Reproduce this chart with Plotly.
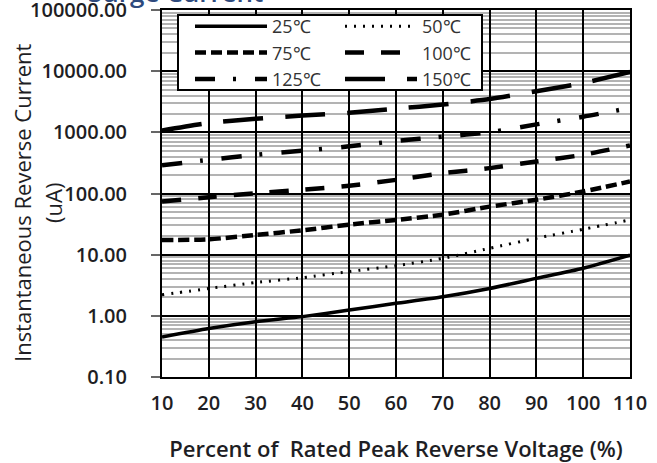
import plotly.graph_objects as go

# ---- data ----
voltage_pct = [10, 20, 30, 40, 50, 60, 70, 80, 90, 100, 110]
i_25C = [0.45, 0.62, 0.80, 0.97, 1.24, 1.6, 2.05, 2.8, 4.1, 6.0, 9.8]
i_50C = [2.2, 2.8, 3.5, 4.2, 5.3, 6.6, 8.7, 12.7, 18.6, 26, 37]
i_75C = [17.4, 17.8, 21, 25, 31, 37, 45, 61, 79, 108, 157]
i_100C = [74, 87, 101, 115, 134, 167, 215, 260, 334, 430, 610]
i_125C = [290, 355, 430, 500, 590, 720, 850, 1000, 1350, 1800, 2500]
i_150C = [1070, 1420, 1670, 1880, 2090, 2440, 2850, 3500, 4700, 6400, 9700]
series_names = ["25℃", "50℃", "75℃", "100℃", "125℃", "150℃"]
y_tickvals = [0.1, 1, 10, 100, 1000, 10000, 100000]
x_tickvals = [10, 20, 30, 40, 50, 60, 70, 80, 90, 100, 110]

series = [i_25C, i_50C, i_75C, i_100C, i_125C, i_150C]
styles = [
    dict(width=3.5, dash="solid"),
    dict(width=3, dash="2px,7px"),
    dict(width=4.5, dash="11px,5px"),
    dict(width=4.5, dash="19px,17px"),
    dict(width=4.5, dash="20px,18px,3px,19px"),
    dict(width=4.5, dash="40px,22px"),
]
legend_ids = ["legend", "legend2", "legend", "legend2", "legend", "legend2"]

FONT = "'Open Sans', sans-serif"
TXT = "#1e1e24"

# plot area in pixels
L, R, T, B = 162, 27, 10, 86
W, H = 657, 463
PW, PH = W - L - R, H - T - B


def px_x(p):
    return (p - L) / PW


def px_y(p):
    return 1 - (p - T) / PH


fig = go.Figure()
for name, vals, st, lg in zip(series_names, series, styles, legend_ids):
    fig.add_trace(go.Scatter(
        x=voltage_pct, y=vals, name=name, mode="lines", legend=lg,
        line=dict(color="black", shape="spline", smoothing=0.6, **st),
    ))

legend_common = dict(
    yanchor="top", xanchor="left", orientation="v",
    bgcolor="rgba(0,0,0,0)", borderwidth=0,
    font=dict(size=18, family=FONT, color="#333333"),
    itemwidth=72,
)

fig.update_layout(
    width=W, height=H,
    margin=dict(l=L, r=R, t=T, b=B, autoexpand=False),
    paper_bgcolor="white", plot_bgcolor="white",
    font=dict(family=FONT, color=TXT, size=16),
    showlegend=True,
    legend=dict(x=px_x(190), y=px_y(8), **legend_common),
    legend2=dict(x=px_x(340), y=px_y(8), **legend_common),
    xaxis=dict(
        range=[10, 110], tickvals=x_tickvals, ticktext=[str(v) for v in x_tickvals],
        showgrid=True, gridcolor="black", gridwidth=2,
        showline=True, linecolor="black", linewidth=2, mirror=True,
        ticks="", ticklabelstandoff=7, automargin=False,
        ticklabeloverflow="allow",
        tickfont=dict(size=20, family=FONT, color=TXT, weight=600),
        title=dict(text="Percent of  Rated Peak Reverse Voltage (%)",
                   font=dict(size=22, family=FONT, color=TXT, weight=600), standoff=27),
        zeroline=False,
    ),
    yaxis=dict(
        type="log", range=[-1.0005, 5.0005], tickvals=y_tickvals,
        ticktext=[f"{v:.2f}" for v in y_tickvals],
        showgrid=True, gridcolor="black", gridwidth=2,
        showline=True, linecolor="black", linewidth=2, mirror=True,
        ticks="outside", ticklen=9, tickcolor="#666666", tickwidth=1.5,
        ticklabelstandoff=20, automargin=False,
        ticklabeloverflow="allow",
        tickfont=dict(size=20, family=FONT, color=TXT, weight=600),
        minor=dict(dtick="D1", showgrid=True, gridcolor="#b3b3b3", gridwidth=1.5, ticks=""),
        zeroline=False,
    ),
)

# legend frame
fig.add_shape(
    type="rect", xref="paper", yref="paper",
    x0=px_x(178), x1=px_x(482), y0=px_y(90), y1=px_y(15),
    fillcolor="white", line=dict(color="black", width=2), layer="above",
)

fig.add_annotation(
    text="Instantaneous Reverse Current", textangle=-90,
    xref="paper", yref="paper", x=px_x(22), y=px_y(203),
    xanchor="center", yanchor="middle", showarrow=False,
    font=dict(size=22, family=FONT, color=TXT),
)
fig.add_annotation(
    text="(uA)", textangle=-90,
    xref="paper", yref="paper", x=px_x(53), y=px_y(203),
    xanchor="center", yanchor="middle", showarrow=False,
    font=dict(size=22, family=FONT, color=TXT),
)
fig.add_annotation(
    text="Surge Current",
    xref="paper", yref="paper", x=px_x(265), y=px_y(-8),
    xanchor="right", yanchor="middle", showarrow=False,
    font=dict(size=26, family=FONT, color="#2E4A7D", weight=600),
)

fig.write_html("out.html", config={"displayModeBar": False},
               post_script="document.body.style.margin='0';")
